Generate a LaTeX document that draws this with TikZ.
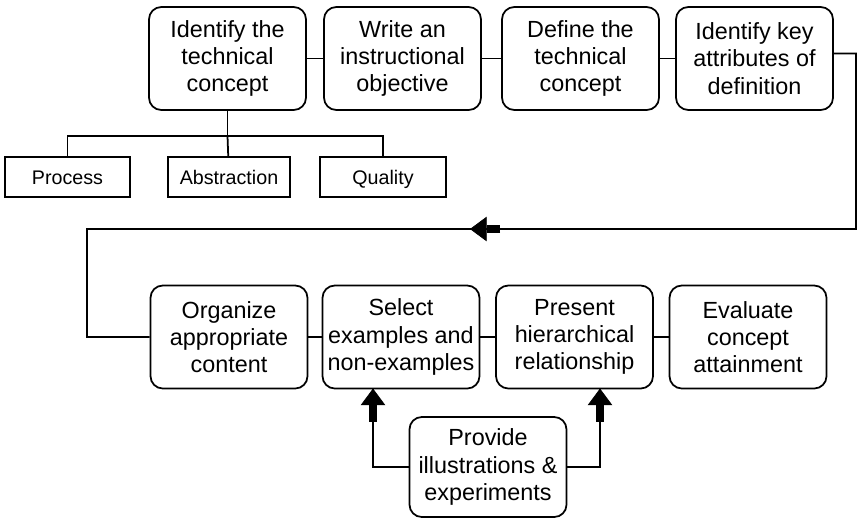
\documentclass[tikz,border=0pt]{standalone}
\usepackage{fontspec}
\setmainfont{Liberation Sans}
\usetikzlibrary{arrows.meta,calc}

\tikzset{
    step box/.style={draw, line width=1pt, rounded corners=7pt, align=center,
        minimum width=3.14cm, minimum height=2.06cm, inner sep=1pt,
        font=\fontsize{13.3}{15.5}\selectfont},
    kind box/.style={draw, line width=1pt, minimum height=0.8cm, inner sep=1pt,
        text height=8pt, text depth=0pt, font=\fontsize{11.2}{13}\selectfont},
    wire/.style={line width=1pt},
    fat arrow/.style={line width=4pt, -{Triangle[length=9.5pt, width=14pt, line width=0.4pt]}}
}

\begin{document}
\begin{tikzpicture}
                \useasboundingbox (0, 0) rectangle (17.18, -10.38);
                % Top row:
                \node[step box](ident) at (4.55, -1.17){Identify the\\technical\\concept};
                \node[step box](write) at (8.05, -1.17){Write an\\instructional\\objective};
                \node[step box](define) at (11.61, -1.17){Define the\\technical\\concept};
                \node[step box](attrib) at (15.09, -1.17){Identify key\\attributes of\\definition};
                % Kinds of concept:
                \node[kind box, minimum width=2.5cm](process) at (1.35, -3.54){Process};
                \node[kind box, minimum width=2.44cm](abstr) at (4.58, -3.54){Abstraction};
                \node[kind box, minimum width=2.52cm](quality) at (7.66, -3.54){Quality};
                % Bottom row:
                \node[step box](organize) at (4.58, -6.74){Organize\\appropriate\\content};
                \node[step box](select) at (8.02, -6.74){Select\\examples and\\non-examples};
                \node[step box](present) at (11.49, -6.74){Present\\hierarchical\\relationship};
                \node[step box](evaluate) at (14.96, -6.74){Evaluate\\concept\\attainment};
                \node[step box, minimum height=2cm](provide) at (9.76, -9.34){Provide\\illustrations \&\\experiments};
                % Wires:
                \draw[wire] (ident) -- (write);
                \draw[wire] (write) -- (define);
                \draw[wire] (define) -- (attrib);
                \draw[wire] (organize) -- (select);
                \draw[wire] (select) -- (present);
                \draw[wire] (present) -- (evaluate);
                \coordinate (bus) at (4.55, -2.72);
                \draw[wire] (ident) -- (bus);
                \draw[wire] (process) |- (bus) -| (quality);
                \draw[wire] (bus) -- (abstr);
                % Loop back to the bottom row:
                \coordinate (back) at (10.0, -4.58);
                \coordinate (tip) at (9.4, -4.58);
                \draw[wire] ($(attrib.east)+(0, 0.1)$) -- (17.12, -1.07) |- (tip) -| (1.74, -6.74) -- (organize.west);
                \draw[fat arrow] (back) -- (tip);
                % Arrows from provide:
                \coordinate (sa) at (7.46, -7.77);
                \coordinate (pa) at (12.0, -7.77);
                \draw[wire] (provide.west) -| (sa);
                \draw[wire] (provide.east) -| (pa);
                \draw[fat arrow] ($(sa)+(0, -0.66)$) -- (sa);
                \draw[fat arrow] ($(pa)+(0, -0.66)$) -- (pa);
            \end{tikzpicture}
\end{document}
